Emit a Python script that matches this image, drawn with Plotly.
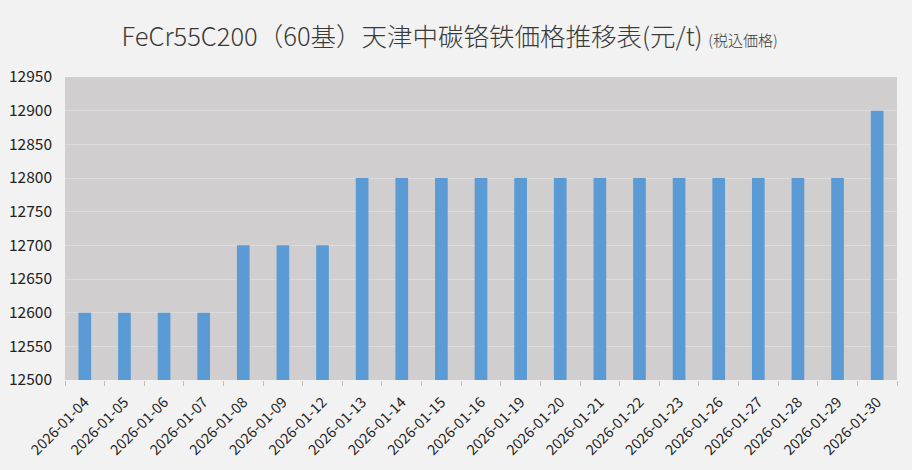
import plotly.graph_objects as go

dates = ["2026-01-04", "2026-01-05", "2026-01-06", "2026-01-07", "2026-01-08", "2026-01-09",
         "2026-01-12", "2026-01-13", "2026-01-14", "2026-01-15", "2026-01-16", "2026-01-19",
         "2026-01-20", "2026-01-21", "2026-01-22", "2026-01-23", "2026-01-26", "2026-01-27",
         "2026-01-28", "2026-01-29", "2026-01-30"]
prices = [12600, 12600, 12600, 12600, 12700, 12700, 12700, 12800, 12800, 12800, 12800, 12800,
          12800, 12800, 12800, 12800, 12800, 12800, 12800, 12800, 12900]
y_ticks = list(range(12500, 12951, 50))

fig = go.Figure(go.Bar(x=dates, y=prices, marker_color="#5b9bd5", marker_line_width=0))

fig.update_layout(
    width=912, height=470,
    paper_bgcolor="#f2f2f2", plot_bgcolor="#d0cece",
    margin=dict(l=65, r=15, t=77, b=90, autoexpand=False),
    bargap=0.68,
    font=dict(family="Noto Sans CJK JP, Noto Sans, sans-serif", color="#222"),
    title=dict(
        text="FeCr55C200（60基）天津中碳铬铁価格推移表(元/t) <span style='font-size:15px'>(税込価格)</span>",
        x=0.493, xanchor="center", y=0.921, yanchor="middle",
        font=dict(size=25.5, color="#3a3a3a", family="Noto Sans CJK JP, sans-serif", weight=300),
    ),
    showlegend=False,
)
fig.update_xaxes(type="category", tickangle=-45, tickfont=dict(size=14.5, color="#222"),
                 ticks="outside", tickson="boundaries", ticklen=5, tickcolor="#bfbfbf",
                 ticklabelstandoff=10,
                 showgrid=False, showline=False, automargin=False)
fig.update_yaxes(range=[12500, 12950], tickvals=y_ticks, tickformat="d",
                 tickfont=dict(size=15.5, color="#222"),
                 showgrid=True, gridcolor="#dcdcdc", gridwidth=1, zeroline=False, ticks="",
                 ticklabelstandoff=12, automargin=False)

fig.write_html(
    "out.html",
    config={"displayModeBar": False},
    post_script="document.body.style.margin='0';document.body.style.background='#f2f2f2';"
                "document.body.style.overflow='hidden';",
)
